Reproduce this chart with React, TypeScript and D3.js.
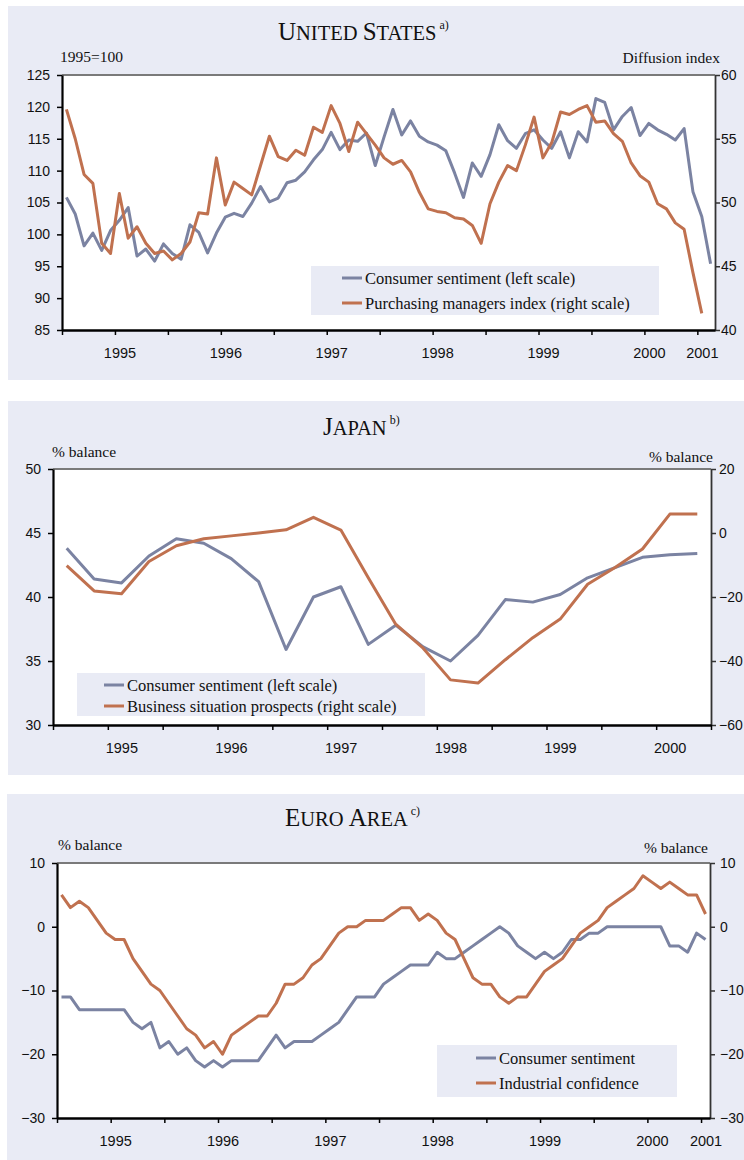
import React, { useRef, useEffect } from "react";
import * as d3 from "d3";

// monthly, Jan 1995 - Feb 2001
const usSentiment = [
  105.8, 103.2, 98.2, 100.2, 97.5, 100.6, 102.2, 104.2, 96.6, 97.7,
  95.8, 98.5, 97.0, 96.1, 101.5, 100.3, 97.1, 100.2, 102.7, 103.3,
  102.8, 104.9, 107.5, 105.1, 105.7, 108.1, 108.5, 109.8, 111.7, 113.3,
  116.0, 113.3, 114.8, 114.6, 115.9, 110.8, 115.3, 119.6, 115.6, 117.8,
  115.4, 114.5, 114.0, 113.1, 109.6, 105.8, 111.2, 109.1, 112.5, 117.2,
  114.7, 113.5, 115.8, 116.4, 114.8, 113.5, 116.1, 112.0, 116.1, 114.5,
  121.3, 120.7, 116.4, 118.5, 119.9, 115.5, 117.4, 116.4, 115.7, 114.8,
  116.6, 106.7, 102.8, 95.4,
];
const usPmi = [
  57.3, 55.0, 52.2, 51.5, 46.8, 46.0, 50.7, 47.2, 48.1, 46.8,
  46.0, 46.2, 45.5, 46.0, 46.9, 49.2, 49.1, 53.5, 49.8, 51.6,
  51.1, 50.6, 52.9, 55.2, 53.6, 53.3, 54.1, 53.7, 55.9, 55.5,
  57.6, 56.2, 54.0, 56.3, 55.4, 54.5, 53.5, 53.0, 53.3, 52.4,
  50.8, 49.5, 49.3, 49.2, 48.8, 48.7, 48.2, 46.8, 49.9, 51.6,
  52.9, 52.5, 54.5, 56.7, 53.5, 54.7, 57.1, 56.9, 57.3, 57.6,
  56.3, 56.4, 55.4, 54.8, 53.1, 52.1, 51.6, 49.9, 49.5, 48.4,
  47.9, 44.5, 41.3,
];
const usYears = ["1995", "1996", "1997", "1998", "1999", "2000", "2001"];
const usLeftTicks = [85, 90, 95, 100, 105, 110, 115, 120, 125];
const usRightTicks = [40, 45, 50, 55, 60];

// quarterly, 1995 Q1 - 2000 Q4
const jpSentiment = [
  43.8, 41.4, 41.1, 43.2, 44.55, 44.2, 43.0, 41.2, 35.9, 40.0, 40.8, 36.3,
  37.8, 36.1, 35.0, 37.0, 39.8, 39.6, 40.2, 41.5, 42.3, 43.1, 43.3, 43.4,
];
const jpBusiness = [
  -10.2, -18.1, -19.0, -8.9, -4.0, -1.8, -0.9, 0.0, 1.0, 4.9, 0.9, -14.0,
  -28.5, -36.0, -45.9, -46.9, -39.6, -32.7, -26.9, -16.0, -10.8, -5.0, 5.9, 5.9,
];
const jpYears = ["1995", "1996", "1997", "1998", "1999", "2000"];
const jpLeftTicks = [30, 35, 40, 45, 50];
const jpRightTicks = [-60, -40, -20, 0, 20];

// monthly, Jan 1995 - Jan 2001
const euSentiment = [
  -11, -11, -13, -13, -13, -13, -13, -13, -15, -16,
  -15, -19, -18, -20, -19, -21, -22, -21, -22, -21,
  -21, -21, -21, -19, -17, -19, -18, -18, -18, -17,
  -16, -15, -13, -11, -11, -11, -9, -8, -7, -6,
  -6, -6, -4, -5, -5, -4, -3, -2, -1, 0,
  -1, -3, -4, -5, -4, -5, -4, -2, -2, -1,
  -1, 0, 0, 0, 0, 0, 0, 0, -3, -3,
  -4, -1, -2,
];
const euIndustry = [
  5, 3, 4, 3, 1, -1, -2, -2, -5, -7,
  -9, -10, -12, -14, -16, -17, -19, -18, -20, -17,
  -16, -15, -14, -14, -12, -9, -9, -8, -6, -5,
  -3, -1, 0, 0, 1, 1, 1, 2, 3, 3,
  1, 2, 1, -1, -2, -5, -8, -9, -9, -11,
  -12, -11, -11, -9, -7, -6, -5, -3, -1, 0,
  1, 3, 4, 5, 6, 8, 7, 6, 7, 6,
  5, 5, 2,
];
const euYears = ["1995", "1996", "1997", "1998", "1999", "2000", "2001"];
const euTicks = [-30, -20, -10, 0, 10];

const BG = "#e9ebf5";
const GREY = "#7b83a2";
const ORANGE = "#c0714f";
const SERIF = "'Liberation Serif', 'Times New Roman', serif";
const SANS = "'Liberation Sans', Arial, sans-serif";

type Panel = {
  bg: [number, number, number, number];
  left: number;
  right: number;
  top: number;
  bottom: number;
  n: number;
  perTick: number;
  leftDomain: [number, number];
  rightDomain: [number, number];
  leftTicks: number[];
  rightTicks: number[];
  rightPad: number;
  years: string[];
  yearTicks: number[];
  yearOffset: number;
  yearY: number;
  title: string[];
  sup: string;
  titleX: number;
  titleY: number;
  unitL: [string, number, number];
  unitR: [string, number, number];
  legend: [number, number, number, number];
  legendRows: [number, number];
  legendX: number;
  labels: [string, string];
  grey: number[];
  orange: number[];
};

const drawPanel = (svg: d3.Selection<SVGSVGElement, unknown, null, undefined>, p: Panel) => {
  const g = svg.append("g");
  g.append("rect")
    .attr("x", p.bg[0]).attr("y", p.bg[1]).attr("width", p.bg[2]).attr("height", p.bg[3])
    .attr("fill", BG);
  g.append("rect")
    .attr("x", p.left).attr("y", p.top)
    .attr("width", p.right - p.left).attr("height", p.bottom - p.top)
    .attr("fill", "#fff");

  const x = d3.scaleLinear().domain([-0.5, p.n - 0.5]).range([p.left, p.right]);
  const yL = d3.scaleLinear().domain(p.leftDomain).range([p.bottom, p.top]);
  const yR = d3.scaleLinear().domain(p.rightDomain).range([p.bottom, p.top]);

  // title in small caps
  const t = g.append("text")
    .attr("x", p.titleX).attr("y", p.titleY)
    .attr("font-family", SERIF).attr("fill", "#111")
    .style("white-space", "pre");
  p.title.forEach((w, i) => {
    if (i > 0) t.append("tspan").attr("font-size", 20.5).text(" ");
    t.append("tspan").attr("font-size", 25).text(w[0]);
    t.append("tspan").attr("font-size", 20.5).text(w.slice(1));
  });
  t.append("tspan").attr("font-size", 12).attr("dy", -11).text(" " + p.sup);

  g.append("text").attr("x", p.unitL[1]).attr("y", p.unitL[2])
    .attr("font-family", SERIF).attr("font-size", 15.5).attr("fill", "#111")
    .text(p.unitL[0]);
  g.append("text").attr("x", p.unitR[1]).attr("y", p.unitR[2])
    .attr("text-anchor", "end")
    .attr("font-family", SERIF).attr("font-size", 15.5).attr("fill", "#111")
    .text(p.unitR[0]);

  // top frame
  g.append("line")
    .attr("x1", p.left).attr("x2", p.right).attr("y1", p.top).attr("y2", p.top)
    .attr("stroke", "#7a7a7a").attr("stroke-width", 2);

  const styleAxis = (a: d3.Selection<SVGGElement, unknown, null, undefined>, col: string, w: number) => {
    a.select(".domain").attr("stroke", col).attr("stroke-width", w);
    a.selectAll(".tick line").attr("stroke", col).attr("stroke-width", 1.5);
    a.selectAll(".tick text")
      .attr("font-family", SANS).attr("font-size", 14).attr("fill", "#111");
  };

  const axL = g.append("g").attr("transform", `translate(${p.left},0)`)
    .call(d3.axisLeft(yL).tickValues(p.leftTicks).tickSize(5).tickSizeOuter(0).tickPadding(7).tickFormat(d3.format("d")));
  styleAxis(axL, "#000", 2.2);

  const axR = g.append("g").attr("transform", `translate(${p.right},0)`)
    .call(d3.axisRight(yR).tickValues(p.rightTicks).tickSize(5).tickSizeOuter(0).tickPadding(p.rightPad).tickFormat(d3.format("d")));
  styleAxis(axR, "#333", 1.8);

  const tickIdx = d3.range(0, p.n + 1, p.perTick).map((d) => d - 0.5);
  const axB = g.append("g").attr("transform", `translate(0,${p.bottom})`)
    .call(d3.axisBottom(x).tickValues(tickIdx).tickSize(5).tickSizeOuter(0).tickFormat(() => ""));
  styleAxis(axB, "#000", 2.5);

  p.years.forEach((yr, i) => {
    g.append("text")
      .attr("x", x(tickIdx[p.yearTicks[i]]) + p.yearOffset)
      .attr("y", p.yearY)
      .attr("text-anchor", "middle")
      .attr("font-family", SANS).attr("font-size", 14.5).attr("fill", "#111")
      .text(yr);
  });

  const lineL = d3.line<number>().x((_, i) => x(i)).y((d) => yL(d));
  const lineR = d3.line<number>().x((_, i) => x(i)).y((d) => yR(d));
  g.append("path").attr("d", lineL(p.grey))
    .attr("fill", "none").attr("stroke", GREY).attr("stroke-width", 3).attr("stroke-linejoin", "round");
  g.append("path").attr("d", lineR(p.orange))
    .attr("fill", "none").attr("stroke", ORANGE).attr("stroke-width", 3).attr("stroke-linejoin", "round");

  // legend
  const [lx, ly, lw, lh] = p.legend;
  g.append("rect").attr("x", lx).attr("y", ly).attr("width", lw).attr("height", lh).attr("fill", BG);
  [GREY, ORANGE].forEach((c, i) => {
    const ry = p.legendRows[i];
    g.append("line")
      .attr("x1", p.legendX).attr("x2", p.legendX + 20).attr("y1", ry).attr("y2", ry)
      .attr("stroke", c).attr("stroke-width", 3);
    g.append("text")
      .attr("x", p.legendX + 23).attr("y", ry + 6)
      .attr("font-family", SERIF).attr("font-size", 16.5).attr("fill", "#111")
      .text(p.labels[i]);
  });
};

const App = () => {
  const divRef = useRef<HTMLDivElement>(null);

  useEffect(() => {
    const root = d3.select(divRef.current);
    root.selectAll("*").remove();
    const svg = root
      .append("svg")
      .attr("width", 744)
      .attr("height", 1160)
      .attr("style", "position:absolute;left:0;top:0;background:#fff");

    drawPanel(svg, {
      bg: [8, 6, 736, 374],
      left: 62, right: 715, top: 75, bottom: 330,
      n: 74, perTick: 6,
      leftDomain: [85, 125], rightDomain: [40, 60],
      leftTicks: usLeftTicks, rightTicks: usRightTicks, rightPad: 1,
      years: usYears, yearTicks: [1, 3, 5, 7, 9, 11, 12], yearOffset: 5, yearY: 358,
      title: ["UNITED", "STATES"], sup: "a)", titleX: 278, titleY: 40,
      unitL: ["1995=100", 60, 62], unitR: ["Diffusion index", 720, 63],
      legend: [311, 266, 348, 49], legendRows: [278, 303], legendX: 342,
      labels: ["Consumer sentiment (left scale)", "Purchasing managers index (right scale)"],
      grey: usSentiment, orange: usPmi,
    });

    drawPanel(svg, {
      bg: [8, 401, 736, 374],
      left: 53, right: 711, top: 469, bottom: 725,
      n: 24, perTick: 2,
      leftDomain: [30, 50], rightDomain: [-60, 20],
      leftTicks: jpLeftTicks, rightTicks: jpRightTicks, rightPad: 3,
      years: jpYears, yearTicks: [1, 3, 5, 7, 9, 11], yearOffset: 14, yearY: 753,
      title: ["JAPAN"], sup: "b)", titleX: 323, titleY: 435,
      unitL: ["% balance", 52, 457], unitR: ["% balance", 713, 462],
      legend: [77, 673, 348, 43], legendRows: [685, 706], legendX: 104,
      labels: ["Consumer sentiment (left scale)", "Business situation prospects (right scale)"],
      grey: jpSentiment, orange: jpBusiness,
    });

    drawPanel(svg, {
      bg: [7, 794, 737, 366],
      left: 57, right: 710, top: 863, bottom: 1118,
      n: 73, perTick: 6,
      leftDomain: [-30, 10], rightDomain: [-30, 10],
      leftTicks: euTicks, rightTicks: euTicks, rightPad: 5,
      years: euYears, yearTicks: [1, 3, 5, 7, 9, 11, 12], yearOffset: 5, yearY: 1146,
      title: ["EURO", "AREA"], sup: "c)", titleX: 285, titleY: 826,
      unitL: ["% balance", 58, 850], unitR: ["% balance", 708, 853],
      legend: [437, 1045, 240, 52], legendRows: [1058, 1083], legendX: 476,
      labels: ["Consumer sentiment", "Industrial confidence"],
      grey: euSentiment, orange: euIndustry,
    });
  }, []);

  return <div id="three-panel-chart" ref={divRef}></div>;
};

export default App;
